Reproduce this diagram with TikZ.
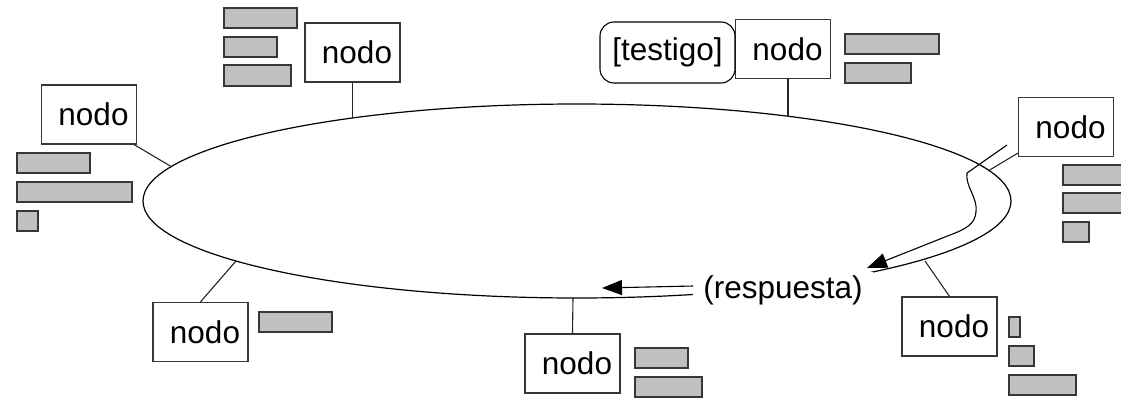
\documentclass[tikz,border=0pt]{standalone}
\usepackage{fontspec}
\setmainfont{Liberation Sans}
\usetikzlibrary{arrows.meta}

\definecolor{barfill}{RGB}{192,192,192}
\definecolor{edgegray}{RGB}{55,55,55}

\tikzset{
  nodebox/.style={draw=edgegray, line width=1.3pt, fill=white, minimum width=95pt,
    minimum height=59pt, inner sep=0pt, font=\fontsize{31.5}{38}\selectfont,
    execute at begin node=\hspace*{9pt}},
  bar/.style={draw=edgegray, line width=1.3pt, fill=barfill},
  link/.style={draw=black!85, line width=1.1pt},
  flecha/.style={line width=1.1pt, -{Triangle[length=20pt,width=15pt]}}
}

\begin{document}
\begin{tikzpicture}[x=1pt, y=-1pt]
      % frame of the page
      \useasboundingbox (0,0) rectangle (1121,399);

      % the ring
      \draw[line width=1.2pt] (577,201) ellipse [x radius=434, y radius=97];

      % stations round the ring
      \node[nodebox] (nodoA) at (89,114.5) {nodo};
      \node[nodebox] (nodoB) at (352.5,52.5) {nodo};
      \node[nodebox] (nodoC) at (783,49) {nodo};
      \node[nodebox] (nodoD) at (1066,127) {nodo};
      \node[nodebox] (nodoE) at (949.5,326.5) {nodo};
      \node[nodebox] (nodoF) at (572.5,363.5) {nodo};
      \node[nodebox] (nodoG) at (200.5,332) {nodo};

      % token held by nodoC
      \node[draw=black, line width=1.1pt, rounded corners=14pt, minimum width=135pt,
        minimum height=61pt, inner sep=0pt, font=\fontsize{31.5}{38}\selectfont]
        (testigo) at (667.5,52.5) {[testigo]};

      % taps on the ring
      \coordinate (eA) at (172,167);
      \coordinate (eB) at (352.5,118);
      \coordinate (eC) at (788,117);
      \coordinate (eD) at (988,171);
      \coordinate (eE) at (925,261);
      \coordinate (eF) at (573,298);
      \coordinate (eG) at (236,261);

      \draw[link] ([xshift=-3pt]nodoA.south east) -- (eA);
      \draw[link] (nodoB.south) -- (eB);
      \draw[link] ([xshift=5pt]nodoC.south) -- (eC);
      \draw[link] ([yshift=4pt]nodoD.south west) -- (eD);
      \draw[link] (nodoE.north) -- (eE);
      \draw[link] (nodoF.north) -- (eF);
      \draw[link] (nodoG.north) -- (eG);

      % answer travelling back along the ring
      \node[fill=white, inner xsep=10pt, inner ysep=3pt, font=\fontsize{31.5}{38}\selectfont]
        (resp) at (783,290) {(respuesta)};

      \coordinate (salida) at (1007,145);
      \coordinate (llegada) at (867,268);
      \coordinate (retorno) at (602,288);
      \draw[flecha] (salida) -- (967,173) .. controls (965,186) and (978,198) .. (976,212)
        .. controls (975,224) and (966,229) .. (950,235) -- (llegada);
      \draw[flecha] ([yshift=4pt]resp.west) -- (retorno);

      % queues: nodoB
      \draw[bar] (224,8) rectangle (297,28);
      \draw[bar] (224,37) rectangle (277,57);
      \draw[bar] (224,65) rectangle (291,86);
      % queues: nodoA
      \draw[bar] (17,153) rectangle (90,173);
      \draw[bar] (17,182) rectangle (132,202);
      \draw[bar] (17,211) rectangle (38,231);
      % queues: nodoC
      \draw[bar] (845,34) rectangle (939,54);
      \draw[bar] (845,63) rectangle (911,83);
      % queues: nodoD
      \draw[bar] (1063,165) rectangle (1125,185);
      \draw[bar] (1063,193) rectangle (1125,213);
      \draw[bar] (1063,222) rectangle (1089,242);
      % queues: nodoG
      \draw[bar] (259,312) rectangle (332,332);
      % queues: nodoF
      \draw[bar] (635,348) rectangle (688,368);
      \draw[bar] (635,377) rectangle (702,397);
      % queues: nodoE
      \draw[bar] (1009,317) rectangle (1020,337);
      \draw[bar] (1009,346) rectangle (1034,366);
      \draw[bar] (1009,375) rectangle (1076,395);
\end{tikzpicture}
\end{document}
